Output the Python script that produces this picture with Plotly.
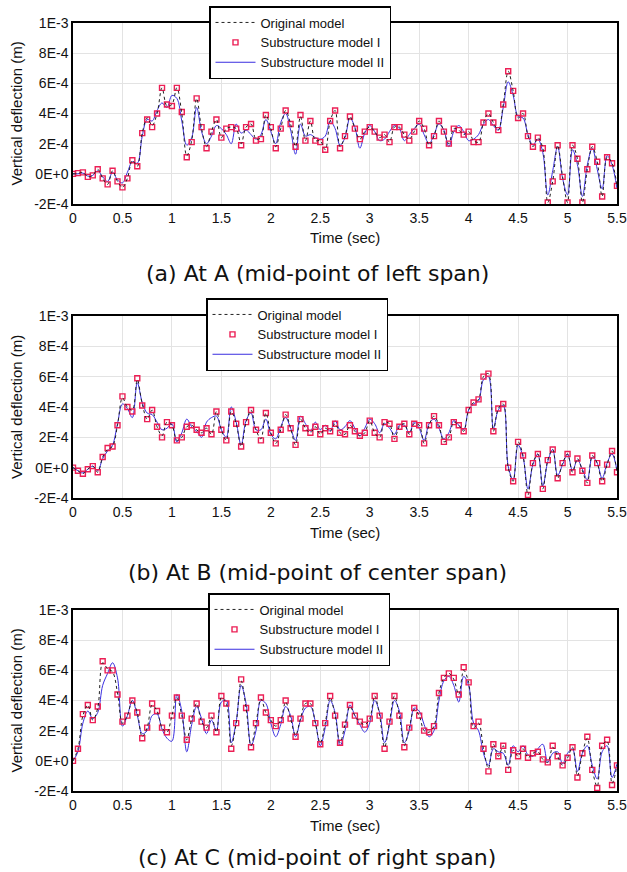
import plotly.graph_objects as go

# time axis (s), sampled every 0.05 s
time_s = [round(i * 0.05, 2) for i in range(111)]

# values in units of 1E-4 m
A_orig = [0.0, 0.02, 0.1, -0.2, -0.1, 0.3, -0.3, -0.7, 0.2, -0.5,
          -0.9, -0.3, 0.9, 0.5, 2.7, 3.7, 3.2, 4.0, 5.7, 4.5,
          4.6, 5.7, 4.0, 1.2, 2.2, 5.0, 3.0, 1.8, 2.8, 3.6,
          2.4, 3.0, 3.1, 3.0, 2.0, 3.1, 3.3, 2.3, 2.4, 3.9,
          3.0, 1.8, 3.0, 4.2, 3.3, 1.8, 3.8, 2.2, 3.5, 2.2,
          2.2, 1.6, 3.5, 4.2, 1.8, 2.5, 3.8, 3.0, 2.3, 2.8,
          3.1, 2.8, 2.4, 2.6, 2.1, 3.1, 3.1, 2.6, 2.3, 2.8,
          3.5, 3.0, 1.9, 2.5, 3.5, 2.8, 2.0, 3.0, 2.9, 2.6,
          2.8, 2.2, 2.1, 3.4, 4.0, 3.4, 2.9, 4.6, 6.8, 5.5,
          3.7, 4.0, 2.5, 1.8, 2.4, 1.7, -1.9, -0.5, 1.9, -0.2,
          -1.9, 1.9, 1.0, -1.9, 0.3, 1.8, 0.8, -1.5, 1.1, 0.7,
          -0.8]
A_sub1 = [0.0, 0.05, 0.1, -0.2, -0.1, 0.3, -0.3, -0.7, 0.2, -0.5,
          -0.9, -0.3, 0.9, 0.5, 2.7, 3.6, 3.1, 4.0, 5.7, 4.6,
          4.5, 5.7, 4.1, 1.1, 2.1, 5.0, 3.1, 1.7, 2.8, 3.6,
          2.4, 3.0, 3.1, 3.0, 1.9, 3.1, 3.3, 2.2, 2.3, 3.9,
          3.1, 1.7, 3.0, 4.2, 3.3, 1.8, 3.9, 2.2, 3.5, 2.2,
          2.1, 1.6, 3.5, 4.2, 1.7, 2.5, 3.8, 3.0, 2.3, 2.8,
          3.1, 2.8, 2.4, 2.6, 2.1, 3.1, 3.1, 2.6, 2.2, 2.8,
          3.5, 3.0, 1.9, 2.5, 3.5, 2.8, 2.0, 3.0, 2.9, 2.6,
          2.8, 2.1, 2.1, 3.4, 4.0, 3.4, 2.9, 4.6, 6.8, 5.5,
          3.7, 4.0, 2.5, 1.8, 2.4, 1.7, -1.9, -0.5, 1.9, -0.2,
          -1.9, 1.9, 1.0, -1.9, 0.3, 1.8, 0.8, -1.5, 1.1, 0.7,
          -0.8]
A_sub2 = [0.0, 0.0, 0.05, -0.15, -0.1, 0.2, -0.2, -0.5, 0.1, -0.4,
          -0.6, 0.1, 0.8, 0.7, 2.5, 3.6, 3.5, 4.2, 4.7, 4.4,
          5.2, 5.0, 3.5, 1.9, 2.4, 4.4, 2.8, 2.0, 2.5, 3.2,
          3.0, 2.6, 2.0, 3.3, 2.7, 2.9, 2.6, 2.3, 2.6, 3.6,
          2.8, 2.0, 3.4, 4.0, 2.9, 1.3, 3.3, 2.5, 2.6, 2.4,
          2.3, 2.5, 3.5, 3.0, 1.9, 2.4, 3.7, 3.1, 1.7, 2.7,
          3.2, 2.8, 2.2, 2.3, 2.8, 3.2, 3.0, 2.2, 2.6, 3.0,
          3.3, 2.6, 2.0, 2.6, 3.3, 2.9, 1.8, 2.8, 3.2, 2.8,
          2.2, 2.3, 2.6, 3.3, 3.6, 3.2, 2.9, 4.4, 6.1, 5.2,
          3.8, 3.7, 2.6, 1.9, 2.3, 1.4, -1.4, 0.2, 1.8, -0.3,
          -1.4, 1.6, 0.6, -1.5, 0.6, 1.7, 0.3, -1.0, 1.2, 0.6,
          -1.0]

B_orig = [0.0, -0.2, -0.4, -0.1, 0.1, -0.3, 0.7, 1.2, 1.4, 2.8,
          4.6, 4.0, 3.8, 5.8, 4.2, 3.2, 3.8, 2.7, 2.1, 3.0,
          2.8, 1.8, 2.0, 2.7, 2.8, 2.5, 2.3, 2.6, 2.2, 3.7,
          2.5, 1.8, 3.7, 2.9, 1.4, 3.0, 3.8, 2.5, 1.9, 3.6,
          2.3, 1.6, 2.5, 3.5, 2.6, 1.5, 3.2, 2.6, 2.3, 2.7,
          2.2, 2.6, 2.4, 2.9, 2.3, 2.2, 2.8, 2.4, 2.1, 2.3,
          3.1, 2.3, 2.0, 3.0, 2.9, 1.9, 2.7, 2.9, 2.2, 2.9,
          2.8, 1.6, 2.8, 3.4, 2.8, 1.7, 2.0, 3.0, 2.8, 2.4,
          3.8, 4.3, 4.5, 6.0, 6.2, 2.4, 3.9, 4.2, 0.0, -0.9,
          1.7, 0.8, -1.8, 0.3, 0.9, -1.4, 0.5, 1.2, -0.7, 0.3,
          0.9, -0.3, 0.6, -0.2, -1.0, 0.8, 0.3, -0.9, 0.2, 1.1,
          -0.3]
B_sub1 = [0.0, -0.2, -0.4, -0.1, 0.1, -0.3, 0.7, 1.3, 1.4, 2.8,
          4.7, 4.0, 3.7, 5.9, 4.1, 3.2, 3.8, 2.7, 2.0, 3.0,
          2.8, 1.8, 2.0, 2.7, 2.8, 2.5, 2.3, 2.6, 2.2, 3.7,
          2.5, 1.8, 3.7, 2.9, 1.4, 3.0, 3.8, 2.5, 1.8, 3.6,
          2.3, 1.6, 2.5, 3.5, 2.6, 1.5, 3.2, 2.6, 2.3, 2.7,
          2.2, 2.6, 2.4, 2.9, 2.3, 2.2, 2.8, 2.4, 2.1, 2.3,
          3.1, 2.3, 2.0, 3.0, 2.9, 1.9, 2.7, 2.9, 2.2, 2.9,
          2.8, 1.6, 2.8, 3.4, 2.8, 1.7, 2.0, 3.0, 2.8, 2.4,
          3.8, 4.3, 4.5, 6.0, 6.2, 2.4, 3.9, 4.2, 0.0, -0.9,
          1.7, 0.8, -1.8, 0.3, 0.9, -1.4, 0.5, 1.2, -0.7, 0.3,
          0.9, -0.3, 0.6, -0.2, -1.0, 0.8, 0.3, -0.9, 0.2, 1.1,
          -0.3]
B_sub2 = [0.0, -0.2, -0.35, -0.1, 0.1, -0.2, 0.6, 1.1, 1.5, 2.9,
          4.2, 3.9, 3.3, 5.6, 4.3, 3.6, 3.5, 3.0, 2.5, 2.6,
          2.9, 1.7, 2.3, 3.2, 2.7, 2.4, 2.0, 3.0, 3.3, 3.4,
          2.5, 2.0, 4.0, 3.0, 1.5, 3.1, 3.6, 2.5, 2.5, 3.2,
          2.2, 1.9, 2.7, 3.3, 2.6, 1.8, 3.4, 2.9, 2.4, 3.0,
          2.5, 2.8, 2.4, 3.1, 2.5, 2.7, 3.1, 2.6, 2.1, 2.6,
          3.2, 2.9, 2.3, 2.9, 2.6, 2.2, 2.8, 2.8, 2.3, 3.0,
          2.6, 1.8, 2.9, 3.2, 2.6, 1.9, 2.3, 3.1, 2.8, 2.5,
          3.8, 4.2, 4.4, 5.8, 6.0, 2.6, 3.8, 4.1, 0.1, -0.8,
          1.5, 0.7, -1.4, 0.2, 0.9, -1.2, 0.4, 1.2, -0.5, 0.2,
          0.9, -0.2, 0.5, -0.1, -0.8, 0.7, 0.3, -0.7, 0.3, 0.9,
          -0.2]

C_orig = [0.0, 0.8, 3.0, 3.7, 2.7, 3.5, 6.5, 6.1, 5.9, 4.5,
          2.5, 3.0, 4.0, 3.2, 1.6, 2.2, 3.7, 3.3, 2.2, 1.9,
          3.0, 4.2, 3.0, 1.4, 2.8, 3.8, 2.6, 2.2, 2.9, 1.9,
          4.2, 3.8, 1.0, 2.5, 5.3, 3.5, 1.0, 2.5, 4.1, 3.2,
          2.7, 2.3, 2.7, 3.9, 2.8, 1.7, 2.8, 3.8, 3.8, 2.5,
          1.2, 2.5, 4.2, 3.0, 1.2, 2.4, 3.6, 3.0, 2.6, 2.4,
          2.8, 4.3, 3.0, 0.9, 2.6, 4.3, 3.0, 1.0, 2.2, 3.4,
          3.0, 2.0, 1.9, 2.3, 4.5, 5.5, 5.8, 5.4, 4.4, 6.0,
          5.2, 2.2, 2.5, 0.8, -0.5, 1.1, 0.3, 1.0, -0.5, 0.7,
          0.3, 0.8, 0.2, 0.5, 0.6, 0.1, -0.1, 0.9, 0.3, -0.3,
          0.2, 0.9, -1.0, 0.5, 1.5, -0.6, -1.7, 1.0, 1.3, -1.5,
          -0.3]
C_sub1 = [0.0, 0.8, 3.1, 3.7, 2.7, 3.6, 6.6, 6.0, 6.0, 4.4,
          2.6, 3.0, 4.0, 3.2, 1.5, 2.2, 3.8, 3.3, 2.2, 1.9,
          3.0, 4.2, 3.0, 1.4, 2.8, 3.8, 2.6, 2.2, 3.0, 1.9,
          4.3, 3.8, 0.8, 2.5, 5.4, 3.5, 0.9, 2.5, 4.2, 3.2,
          2.7, 2.3, 2.7, 4.0, 2.8, 1.6, 2.8, 3.8, 3.8, 2.5,
          1.1, 2.5, 4.3, 3.0, 1.2, 2.4, 3.7, 3.0, 2.6, 2.4,
          2.8, 4.3, 3.0, 0.8, 2.6, 4.3, 3.0, 0.9, 2.2, 3.5,
          3.0, 2.0, 1.9, 2.3, 4.5, 5.5, 5.8, 5.5, 4.4, 6.2,
          5.2, 2.3, 2.6, 0.8, -0.7, 1.1, 0.3, 1.0, -0.6, 0.7,
          0.3, 0.8, 0.2, 0.5, 0.6, 0.1, -0.1, 1.0, 0.3, -0.3,
          0.2, 0.9, -1.1, 0.5, 1.6, -0.6, -1.8, 1.0, 1.4, -1.6,
          -0.3]
C_sub2 = [0.0, 0.6, 2.5, 3.3, 2.8, 3.2, 5.0, 5.8, 6.5, 5.5,
          2.3, 3.0, 4.0, 3.0, 1.8, 2.0, 3.0, 3.1, 2.1, 1.5,
          1.3, 4.4, 3.3, 0.6, 2.4, 3.6, 2.8, 1.8, 2.7, 2.0,
          3.9, 4.0, 1.2, 2.6, 5.0, 3.8, 1.0, 2.0, 4.0, 3.8,
          2.5, 1.6, 2.4, 3.6, 3.0, 1.6, 2.7, 3.5, 3.6, 2.6,
          1.0, 2.2, 4.0, 3.2, 1.0, 2.0, 3.7, 3.0, 2.4, 1.9,
          2.5, 4.0, 3.2, 1.2, 2.4, 4.0, 3.3, 1.2, 2.0, 3.5,
          3.3, 2.4, 1.6, 2.0, 4.0, 5.3, 5.6, 5.0, 3.9, 5.6,
          5.0, 2.5, 2.0, 0.5, -0.3, 0.8, 0.6, 0.5, -0.3, 1.0,
          0.6, 1.0, 0.4, 0.3, 0.8, 1.1, -0.1, 0.5, 0.6, -0.2,
          0.5, 0.8, -0.7, 0.5, 1.0, -0.3, -1.2, 0.6, 1.0, -1.1,
          -0.2]

series_names = ["Original model", "Substructure model I", "Substructure model II"]
captions = ["(a) At A (mid-point of left span)",
            "(b) At B (mid-point of center span)",
            "(c) At C (mid-point of right span)"]
x_tickvals = [0, 0.5, 1, 1.5, 2, 2.5, 3, 3.5, 4, 4.5, 5, 5.5]
x_ticktext = ["0", "0.5", "1", "1.5", "2", "2.5", "3", "3.5", "4", "4.5", "5", "5.5"]
y_tickvals = [-2e-4, 0, 2e-4, 4e-4, 6e-4, 8e-4, 1e-3]
y_ticktext = ["-2E-4", "0E+0", "2E-4", "4E-4", "6E-4", "8E-4", "1E-3"]

panels = [(A_orig, A_sub1, A_sub2), (B_orig, B_sub1, B_sub2), (C_orig, C_sub1, C_sub2)]

W, H = 627, 872
# pixel layout of each panel: (plot top, plot bottom, legend top, legend left, caption y)
panel_px = [(23, 204, 6, 209, 273), (316, 498, 298, 206, 572), (610, 791, 593, 208, 857)]
PL, PR = 73, 617

FONT = "Liberation Sans, Arial, sans-serif"
CAPFONT = "DejaVu Sans, sans-serif"
RED = "#ec1f55"
BLUE = "#3a2ee0"

fig = go.Figure()
annotations = []
layout = {}
for i, (vals, (top, bot, ltop, lleft, capy)) in enumerate(zip(panels, panel_px)):
    n = i + 1
    xa = "x" if n == 1 else f"x{n}"
    ya = "y" if n == 1 else f"y{n}"
    lg = "legend" if n == 1 else f"legend{n}"
    orig, s1, s2 = [[v * 1e-4 for v in arr] for arr in vals]
    # draw order: model II, model I, original on top
    fig.add_trace(go.Scatter(x=time_s, y=s2, mode="lines", name=series_names[2],
                             line=dict(color=BLUE, width=1), line_shape="spline",
                             xaxis=xa, yaxis=ya, legend=lg, legendrank=3))
    fig.add_trace(go.Scatter(x=time_s, y=s1, mode="markers", name=series_names[1],
                             marker=dict(symbol="square-open", size=5, color=RED,
                                         line=dict(width=1.4, color=RED)),
                             xaxis=xa, yaxis=ya, legend=lg, legendrank=2))
    fig.add_trace(go.Scatter(x=time_s, y=orig, mode="lines", name=series_names[0],
                             line=dict(color="#222222", width=1, dash="dot"), line_shape="spline",
                             xaxis=xa, yaxis=ya, legend=lg, legendrank=1))

    axkey = "xaxis" if n == 1 else f"xaxis{n}"
    aykey = "yaxis" if n == 1 else f"yaxis{n}"
    layout[axkey] = dict(domain=[PL / W, PR / W], anchor=ya, range=[0, 5.5],
                         tickvals=x_tickvals, ticktext=x_ticktext, automargin=False,
                         showgrid=True, gridcolor="#e3e3e3", gridwidth=1,
                         showline=True, linecolor="black", linewidth=1.5, mirror=True,
                         ticks="", zeroline=False,
                         tickfont=dict(family=FONT, size=14, color="#111"))
    layout[aykey] = dict(domain=[1 - bot / H, 1 - top / H], anchor=xa, range=[-2e-4, 1e-3],
                         tickvals=y_tickvals, ticktext=y_ticktext, automargin=False,
                         showgrid=True, gridcolor="#e3e3e3", gridwidth=1,
                         showline=True, linecolor="black", linewidth=1.5, mirror=True,
                         ticks="", zeroline=False,
                         tickfont=dict(family=FONT, size=14, color="#111"))
    layout[lg] = dict(x=lleft / W, y=1 - ltop / H, xanchor="left", yanchor="top",
                      bgcolor="white", bordercolor="black", borderwidth=1.5,
                      font=dict(family=FONT, size=13, color="#111"),
                      itemwidth=40, tracegroupgap=0)
    annotations.append(dict(text="Time (sec)", x=(PL + PR) / 2 / W, y=1 - (bot + 34) / H,
                            xref="paper", yref="paper", showarrow=False,
                            xanchor="center", yanchor="middle",
                            font=dict(family=FONT, size=15, color="#111")))
    annotations.append(dict(text="Vertical deflection (m)", x=16 / W, y=1 - (top + bot) / 2 / H,
                            xref="paper", yref="paper", showarrow=False, textangle=-90,
                            xanchor="center", yanchor="middle",
                            font=dict(family=FONT, size=15, color="#111")))
    annotations.append(dict(text=captions[i], x=317 / W, y=1 - capy / H,
                            xref="paper", yref="paper", showarrow=False,
                            xanchor="center", yanchor="middle",
                            font=dict(family=CAPFONT, size=22, color="#111")))

fig.update_layout(width=W, height=H, margin=dict(l=0, r=0, t=0, b=0),
                  paper_bgcolor="white", plot_bgcolor="white",
                  annotations=annotations, showlegend=True, **layout)
fig.write_html("out.html", config={"displayModeBar": False},
               post_script="document.body.style.margin='0';document.body.style.padding='0';")
